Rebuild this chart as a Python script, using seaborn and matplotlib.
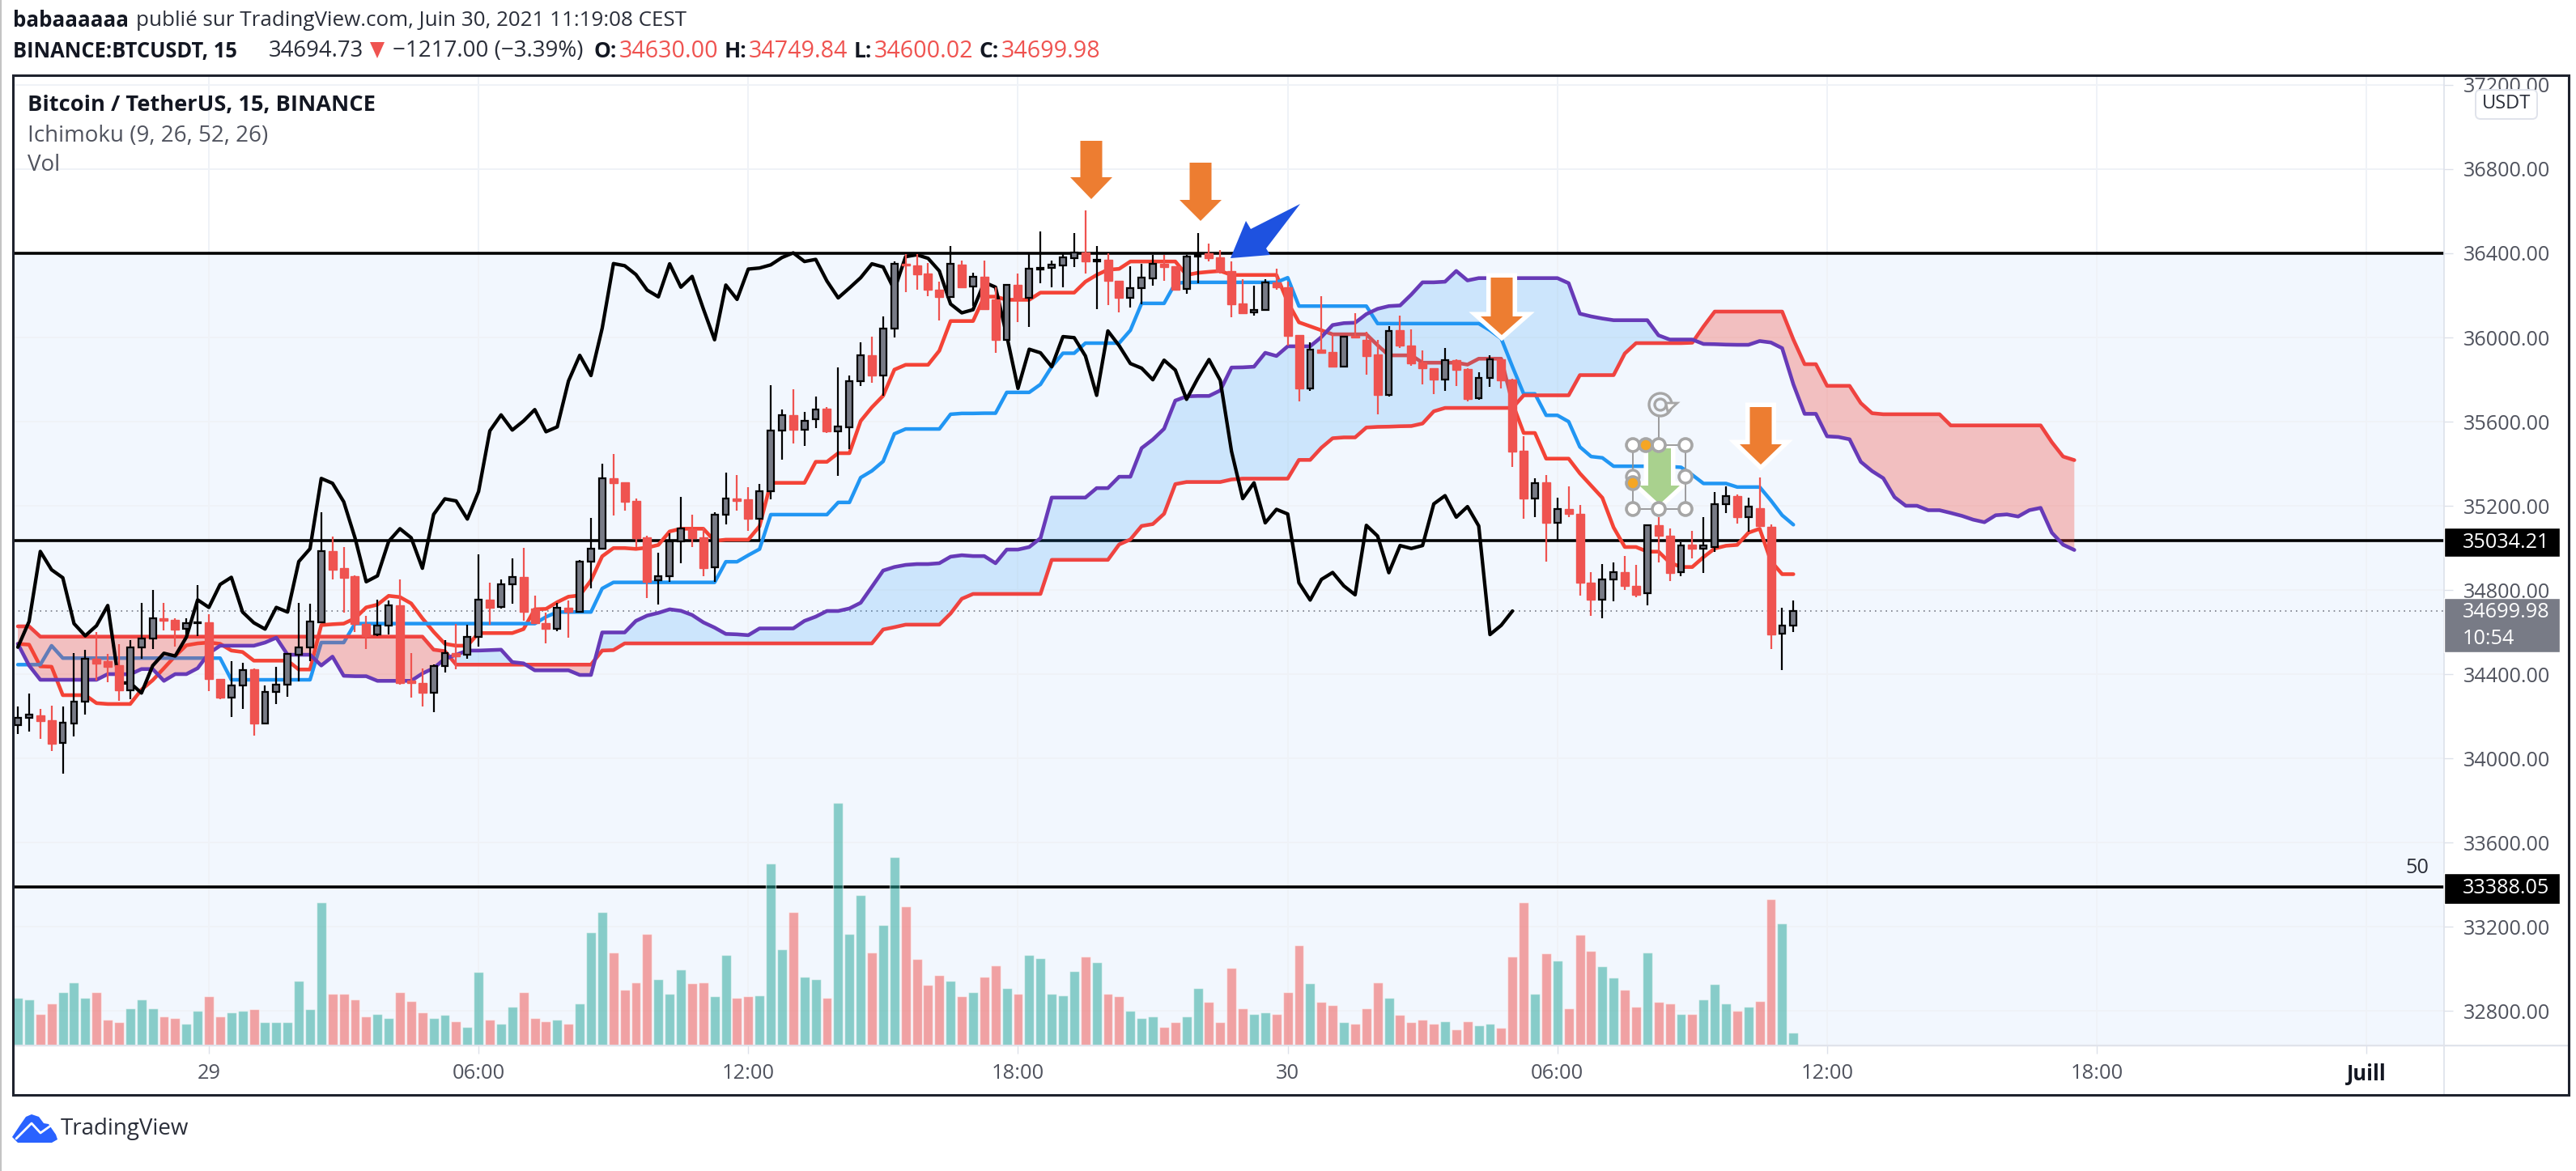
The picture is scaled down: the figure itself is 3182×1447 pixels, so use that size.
"""
BTCUSDT 15 min chart with Ichimoku cloud and volume, TradingView look.
"""

import matplotlib

matplotlib.use("Agg")
import matplotlib.pyplot as plt
import numpy as np
import pandas as pd
import seaborn as sns
from matplotlib.lines import Line2D
from matplotlib.patches import Circle, FancyBboxPatch, Polygon, Rectangle
from matplotlib.transforms import IdentityTransform

WIDTH, HEIGHT = 3182, 1447

opens = [
    34159, 34194, 34204, 34182, 34072, 34166, 34268, 34473, 34463, 34441,
    34322, 34527, 34568, 34664, 34659, 34614, 34642, 34646, 34377, 34287,
    34345, 34422, 34166, 34317, 34351, 34492, 34527, 34646, 34983, 34903,
    34864, 34640, 34589, 34630, 34726, 34371, 34358, 34310, 34440, 34499,
    34492, 34576, 34753, 34721, 34826, 34860, 34710, 34644, 34614, 34717,
    34695, 34935, 34996, 35330, 35310, 35223, 35050, 34845, 34864, 35031,
    35089, 35050, 34907, 35159, 35233, 35230, 35137, 35270, 35556, 35632,
    35562, 35610, 35661, 35555, 35574, 35793, 35915, 35819, 36044, 36351,
    36344, 36302, 36228, 36194, 36345, 36241, 36290, 36181, 35989, 36249,
    36188, 36322, 36329, 36344, 36377, 36402, 36363, 36371, 36268, 36188,
    36235, 36281, 36350, 36338, 36229, 36384, 36399, 36380, 36316, 36162,
    36120, 36130, 36262, 36239, 36012, 35758, 35944, 35931, 35861, 36008,
    35989, 35918, 35725, 36034, 35963, 35880, 35854, 35800, 35892, 35850,
    35710, 35806, 35895, 35800, 35463, 35234, 35311, 35120, 35183, 35161,
    34834, 34754, 34850, 34883, 34821, 34783, 35106, 35059, 34883, 35014,
    34998, 35005, 35209, 35248, 35148, 35189, 35101, 34591, 34630.00,
]
highs = [
    34245, 34307, 34236, 34249, 34245, 34501, 34516, 34599, 34496, 34544,
    34563, 34740, 34800, 34740, 34665, 34665, 34822, 34685, 34377, 34460,
    34454, 34428, 34345, 34435, 34499, 34740, 34733, 35168, 35053, 35005,
    34871, 34678, 34753, 34749, 34849, 34499, 34428, 34448, 34563, 34640,
    34633, 34971, 34836, 34849, 34950, 34999, 34774, 34691, 34739, 34749,
    34941, 35142, 35399, 35448, 35310, 35236, 35057, 34977, 35069, 35242,
    35159, 35095, 35168, 35358, 35345, 35287, 35304, 35774, 35659, 35755,
    35646, 35719, 35668, 35856, 35821, 35978, 36003, 36100, 36360, 36398,
    36398, 36353, 36267, 36435, 36367, 36307, 36367, 36239, 36252, 36303,
    36397, 36504, 36367, 36399, 36495, 36604, 36435, 36399, 36268, 36338,
    36350, 36393, 36393, 36338, 36393, 36495, 36448, 36415, 36361, 36275,
    36245, 36275, 36326, 36264, 36012, 35976, 36198, 36015, 36008, 36117,
    36027, 35989, 36053, 36102, 36040, 35938, 35854, 35950, 35898, 35854,
    35834, 35914, 35898, 35802, 35529, 35332, 35347, 35238, 35293, 35204,
    34883, 34924, 34931, 34960, 34918, 35110, 35148, 35093, 35027, 35080,
    35148, 35264, 35293, 35254, 35238, 35334, 35110, 34716, 34749.84,
]
lows = [
    34117, 34125, 34091, 34035, 33928, 34104, 34207, 34371, 34360, 34274,
    34281, 34473, 34518, 34608, 34531, 34589, 34582, 34319, 34281, 34198,
    34236, 34108, 34166, 34258, 34291, 34364, 34460, 34646, 34851, 34691,
    34601, 34518, 34582, 34589, 34351, 34287, 34245, 34219, 34409, 34422,
    34473, 34531, 34633, 34713, 34736, 34653, 34640, 34546, 34604, 34573,
    34695, 34809, 34992, 35155, 35178, 35005, 34762, 34730, 34839, 34928,
    35005, 34864, 34839, 35110, 35178, 35082, 35037, 35232, 35418, 35498,
    35484, 35571, 35546, 35343, 35469, 35770, 35783, 35723, 36001, 36216,
    36225, 36196, 36082, 36188, 36239, 36149, 36136, 35925, 35989, 36072,
    36050, 36258, 36239, 36239, 36335, 36303, 36136, 36152, 36120, 36143,
    36156, 36245, 36271, 36226, 36207, 36258, 36361, 36303, 36098, 36111,
    36104, 36127, 36226, 35963, 35697, 35748, 35925, 35858, 35858, 35995,
    35822, 35636, 35720, 35950, 35867, 35777, 35730, 35745, 35768, 35696,
    35704, 35764, 35757, 35383, 35139, 35145, 34934, 35037, 35145, 34773,
    34678, 34665, 34745, 34800, 34764, 34725, 34931, 34841, 34866, 34950,
    34879, 34982, 35165, 35116, 35075, 35101, 34520, 34418, 34600.02,
]
closes = [
    34194, 34208, 34178, 34069, 34168, 34271, 34473, 34450, 34435, 34322,
    34528, 34568, 34665, 34653, 34612, 34642, 34646, 34377, 34287, 34345,
    34419, 34166, 34317, 34351, 34496, 34528, 34650, 34983, 34896, 34858,
    34640, 34582, 34630, 34726, 34358, 34358, 34310, 34440, 34499, 34486,
    34576, 34753, 34717, 34826, 34860, 34695, 34644, 34614, 34717, 34695,
    34935, 34996, 35330, 35307, 35219, 35048, 34839, 34867, 35031, 35091,
    35048, 34903, 35159, 35233, 35223, 35137, 35268, 35556, 35632, 35560,
    35603, 35657, 35552, 35575, 35793, 35915, 35819, 36044, 36351, 36341,
    36299, 36225, 36193, 36350, 36239, 36290, 36136, 35989, 36249, 36181,
    36325, 36330, 36345, 36380, 36402, 36361, 36371, 36268, 36188, 36235,
    36284, 36350, 36335, 36226, 36384, 36393, 36376, 36316, 36159, 36117,
    36132, 36262, 36239, 36008, 35758, 35944, 35927, 35861, 36004, 35999,
    35912, 35725, 36031, 35961, 35876, 35854, 35799, 35892, 35845, 35706,
    35806, 35895, 35796, 35459, 35234, 35309, 35119, 35183, 35161, 34834,
    34752, 34850, 34883, 34819, 34777, 35107, 35056, 34882, 35011, 34997,
    35011, 35209, 35248, 35146, 35196, 35104, 34588, 34632, 34699.98,
]
volumes = [
    177, 171, 118, 155, 197, 235, 177, 198, 97, 86,
    139, 171, 139, 107, 103, 81, 129, 182, 107, 123,
    129, 134, 86, 86, 86, 240, 134, 532, 192, 192,
    171, 107, 118, 102, 198, 166, 123, 102, 113, 91,
    70, 272, 97, 81, 145, 198, 102, 91, 97, 81,
    155, 420, 495, 346, 208, 235, 415, 245, 192, 283,
    230, 235, 182, 335, 177, 182, 187, 675, 357, 495,
    256, 245, 177, 899, 415, 557, 346, 447, 700, 515,
    320, 224, 261, 240, 182, 198, 256, 298, 214, 192,
    335, 325, 192, 187, 277, 330, 309, 192, 182, 129,
    102, 107, 70, 86, 107, 214, 161, 86, 288, 139,
    118, 123, 118, 198, 372, 230, 161, 150, 86, 81,
    139, 235, 177, 113, 86, 97, 81, 91, 60, 91,
    75, 81, 65, 330, 532, 192, 341, 314, 139, 410,
    352, 293, 251, 208, 145, 346, 161, 155, 118, 118,
    171, 229, 155, 129, 145, 166, 542, 452, 49,
]
tenkan = [
    34544, 34540, 34437, 34435, 34300, 34300, 34300, 34262, 34258, 34258,
    34258, 34326, 34371, 34428, 34486, 34537, 34546, 34550, 34544, 34512,
    34505, 34464, 34464, 34464, 34464, 34422, 34422, 34633, 34637, 34640,
    34665, 34717, 34730, 34772, 34766, 34736, 34665, 34601, 34544, 34535,
    34535, 34595, 34595, 34595, 34595, 34614, 34708, 34710, 34742, 34768,
    34774, 34845, 34960, 34999, 34999, 34995, 35001, 35014, 35078, 35091,
    35091, 35091, 35033, 35039, 35039, 35039, 35103, 35309, 35309, 35309,
    35309, 35409, 35409, 35450, 35450, 35603, 35668, 35723, 35847, 35870,
    35870, 35870, 35937, 36078, 36078, 36078, 36194, 36194, 36179, 36179,
    36179, 36213, 36213, 36213, 36213, 36265, 36297, 36322, 36326, 36361,
    36361, 36361, 36361, 36361, 36297, 36307, 36312, 36316, 36297, 36297,
    36297, 36297, 36297, 36168, 36072, 36053, 36034, 36015, 36015, 36015,
    36015, 35963, 35915, 35915, 35915, 35880, 35880, 35880, 35880, 35871,
    35899, 35899, 35899, 35688, 35546, 35546, 35424, 35424, 35424, 35354,
    35296, 35238, 35097, 35004, 35004, 34982, 34982, 34930, 34909, 34909,
    34956, 34997, 35010, 35014, 35072, 35091, 34937, 34875, 34875,
]
kijun = [
    34445, 34445, 34445, 34535, 34476, 34476, 34476, 34476, 34476, 34476,
    34476, 34476, 34476, 34476, 34476, 34476, 34476, 34476, 34476, 34373,
    34373, 34373, 34373, 34373, 34373, 34373, 34373, 34550, 34550, 34550,
    34640, 34640, 34640, 34640, 34640, 34640, 34640, 34640, 34640, 34640,
    34640, 34640, 34640, 34640, 34640, 34640, 34640, 34672, 34695, 34695,
    34695, 34695, 34807, 34836, 34836, 34836, 34836, 34836, 34836, 34836,
    34836, 34836, 34836, 34934, 34934, 34965, 34994, 35158, 35158, 35158,
    35158, 35158, 35158, 35216, 35216, 35334, 35366, 35411, 35542, 35565,
    35565, 35565, 35565, 35635, 35639, 35639, 35640, 35640, 35739, 35739,
    35739, 35777, 35861, 35925, 35925, 35973, 35973, 35973, 35973, 36034,
    36162, 36162, 36162, 36258, 36262, 36262, 36262, 36262, 36262, 36262,
    36262, 36262, 36262, 36284, 36149, 36149, 36149, 36149, 36149, 36149,
    36149, 36066, 36066, 36066, 36066, 36066, 36066, 36066, 36066, 36066,
    36066, 36034, 35995, 35861, 35732, 35732, 35630, 35630, 35600, 35480,
    35434, 35428, 35388, 35388, 35388, 35388, 35388, 35386, 35383, 35347,
    35306, 35306, 35306, 35289, 35289, 35289, 35225, 35155, 35110,
]
senkou_a = [
    34627, 34627, 34578, 34578, 34578, 34578, 34578, 34578, 34578, 34578,
    34578, 34578, 34578, 34578, 34578, 34578, 34578, 34578, 34578, 34578,
    34578, 34578, 34578, 34578, 34578, 34578, 34578, 34578, 34578, 34578,
    34578, 34578, 34578, 34578, 34578, 34578, 34578, 34516, 34509, 34445,
    34445, 34445, 34445, 34445, 34445, 34445, 34445, 34445, 34445, 34445,
    34445, 34445, 34512, 34514, 34546, 34546, 34546, 34546, 34546, 34546,
    34546, 34546, 34546, 34546, 34546, 34546, 34546, 34546, 34546, 34546,
    34546, 34546, 34546, 34546, 34546, 34546, 34546, 34612, 34623, 34635,
    34635, 34635, 34635, 34688, 34758, 34781, 34781, 34781, 34781, 34781,
    34781, 34781, 34943, 34943, 34943, 34943, 34943, 34943, 35016, 35040,
    35104, 35113, 35162, 35303, 35313, 35313, 35313, 35313, 35325, 35329,
    35329, 35329, 35329, 35329, 35418, 35418, 35476, 35521, 35525, 35525,
    35572, 35575, 35576, 35578, 35579, 35591, 35649, 35665, 35665, 35665,
    35665, 35665, 35665, 35665, 35725, 35725, 35725, 35725, 35725, 35821,
    35821, 35821, 35821, 35924, 35973, 35973, 35973, 35973, 35973, 35975,
    36052, 36123, 36123, 36123, 36123, 36123, 36123, 36123, 35990, 35873,
    35873, 35770, 35770, 35770, 35688, 35640, 35635, 35635, 35635, 35635,
    35635, 35635, 35582, 35582, 35582, 35582, 35582, 35582, 35582, 35582,
    35582, 35502, 35434, 35417,
]
senkou_b = [
    34544, 34441, 34373, 34373, 34373, 34373, 34373, 34373, 34400, 34400,
    34399, 34424, 34424, 34368, 34400, 34400, 34428, 34499, 34535, 34535,
    34535, 34535, 34550, 34573, 34492, 34492, 34492, 34441, 34483, 34392,
    34390, 34390, 34368, 34368, 34368, 34368, 34403, 34428, 34473, 34492,
    34512, 34512, 34514, 34516, 34457, 34451, 34418, 34418, 34418, 34418,
    34396, 34396, 34598, 34598, 34598, 34653, 34678, 34691, 34708, 34701,
    34681, 34646, 34621, 34591, 34589, 34585, 34617, 34617, 34617, 34617,
    34653, 34673, 34700, 34700, 34712, 34739, 34815, 34892, 34909, 34919,
    34923, 34923, 34927, 34958, 34965, 34961, 34961, 34927, 34992, 34992,
    35004, 35046, 35239, 35239, 35239, 35239, 35284, 35284, 35338, 35338,
    35474, 35515, 35566, 35700, 35720, 35722, 35722, 35748, 35857, 35858,
    35861, 35927, 35912, 35958, 35958, 35958, 36002, 36059, 36068, 36070,
    36111, 36136, 36149, 36152, 36204, 36262, 36262, 36265, 36316, 36271,
    36282, 36282, 36282, 36282, 36282, 36282, 36282, 36282, 36258, 36113,
    36100, 36090, 36082, 36082, 36082, 36082, 36010, 35990, 35990, 35990,
    35969, 35968, 35966, 35965, 35965, 35983, 35976, 35949, 35777, 35637,
    35637, 35530, 35527, 35516, 35409, 35365, 35331, 35241, 35200, 35200,
    35179, 35179, 35166, 35152, 35134, 35122, 35155, 35159, 35149, 35179,
    35190, 35072, 35015, 34990,
]

price_ticks = [37200, 36800, 36400, 36000, 35600, 35200, 34800, 34400, 34000, 33600, 33200, 32800]
time_ticks = [17, 41, 65, 89, 113, 137, 161, 185, 209]
time_labels = ["29", "06:00", "12:00", "18:00", "30", "06:00", "12:00", "18:00", "Juill"]
levels = [36400, 35034.21, 33388.05]
last_price = 34699.98

FONT = "Open Sans"
RED = "#EF5350"
TEAL = "#26A69A"
DARK = "#131722"
LABEL = "#50535E"
GRID = "#EFF2F7"
SHADE = "#F2F7FE"
ORANGE = "#ED7D31"
GREEN = "#A9D18E"


def px(x, y):
    """Pixel of the reference (origin top left) to figure pixels."""
    return (x, HEIGHT - y)


def add_text(fig, x, y, text, size=19, color=DARK, weight="normal", ha="left"):
    fig.text(x / WIDTH, 1 - y / HEIGHT, text, fontsize=size, color=color, fontweight=weight,
             ha=ha, va="center", family=FONT)


def add_shape(fig, points, **kwargs):
    fig.add_artist(Polygon([px(*p) for p in points], closed=True, transform=IdentityTransform(), **kwargs))


def add_block_arrow(fig, cx, top, neck, tip, shaft, head, color, outline=0):
    pts = [(cx - shaft, top), (cx + shaft, top), (cx + shaft, neck), (cx + head, neck),
           (cx, tip), (cx - head, neck), (cx - shaft, neck)]
    if outline:
        # white halo first, the arrow itself stays at full width on top
        add_shape(fig, pts, facecolor="white", edgecolor="white", linewidth=outline, joinstyle="miter", zorder=4)
    add_shape(fig, pts, facecolor=color, edgecolor="none", zorder=4)


def draw_handles(fig):
    """Selection frame around the green arrow."""
    left, mid, right = 2017, 2049, 2082
    top, center, bottom = 550, 589, 629
    for xs, ys in [((left, right, right, left, left), (top, top, bottom, bottom, top)),
                   ((mid, mid), (513, top))]:
        fig.add_artist(Line2D(xs, [HEIGHT - v for v in ys], color="#8C8C8C", linewidth=1.2,
                              transform=IdentityTransform(), zorder=5))
    for x, y in [(left, center)]:
        fig.add_artist(Circle(px(x, y), 8, facecolor="white", edgecolor="#A6A6A6", linewidth=2.4,
                              transform=IdentityTransform(), zorder=5))
    add_block_arrow(fig, 2050, 554, 600, 623, 14, 25, GREEN, outline=8)
    for x, y in [(left, top), (mid, top), (right, top), (right, center),
                 (left, bottom), (mid, bottom), (right, bottom)]:
        fig.add_artist(Circle(px(x, y), 8, facecolor="white", edgecolor="#A6A6A6", linewidth=2.6,
                              transform=IdentityTransform(), zorder=6))
    for x, y in [(2033, top), (2017, 597)]:
        fig.add_artist(Circle(px(x, y), 8, facecolor="#F5A623", edgecolor="#A6A6A6", linewidth=2.6,
                              transform=IdentityTransform(), zorder=6))
    # rotation handle
    for radius in (14, 7):
        fig.add_artist(Circle(px(2051, 500), radius, facecolor="none", edgecolor="#A6A6A6", linewidth=2.4,
                              transform=IdentityTransform(), zorder=6))
    add_shape(fig, [(2058, 498), (2072, 498), (2060, 509)], facecolor="white", edgecolor="#A6A6A6",
              linewidth=2, zorder=6)


def draw_overlays(fig):
    # header
    add_text(fig, 16, 25, "babaaaaaa", size=18.6, weight="bold")
    add_text(fig, 168, 25, "publié sur TradingView.com, Juin 30, 2021 11:19:08 CEST", size=18.7, color="#2A2E39")
    add_text(fig, 16, 63, "BINANCE:BTCUSDT, 15", size=18.4, weight="bold")
    add_text(fig, 332, 63, "34694.73", size=19.8, color="#2A2E39")
    add_shape(fig, [(457, 52), (475, 52), (466, 72)], facecolor=RED, edgecolor="none")
    add_text(fig, 485, 63, "−1217.00 (−3.39%)", size=20, color="#2A2E39")
    for x_key, x_val, key, value in [(733, 765, "O:", "34630.00"), (895, 925, "H:", "34749.84"),
                                     (1055, 1080, "L:", "34600.02"), (1209, 1237, "C:", "34699.98")]:
        add_text(fig, x_key, 63, key, size=19, weight="bold")
        add_text(fig, x_val, 63, value, size=20.6, color=RED)

    # pane legend
    add_text(fig, 34, 130, "Bitcoin / TetherUS, 15, BINANCE", size=19.6, weight="bold", color=DARK)
    add_text(fig, 34, 168, "Ichimoku (9, 26, 52, 26)", size=20, color=LABEL)
    add_text(fig, 34, 204, "Vol", size=20, color=LABEL)

    # frame and separators
    fig.add_artist(Rectangle(px(16, 1353), 3157, 1260, facecolor="none", edgecolor="#1E222D", linewidth=2.2,
                             transform=IdentityTransform(), zorder=3))
    fig.add_artist(Line2D([3019, 3019], [HEIGHT - 93, HEIGHT - 1353], color="#DDE1EA", linewidth=1.2,
                          transform=IdentityTransform(), zorder=2))
    fig.add_artist(Line2D([16, 3173], [HEIGHT - 1292, HEIGHT - 1292], color="#E0E3EB", linewidth=1.6,
                          transform=IdentityTransform(), zorder=2))
    fig.add_artist(Line2D([1, 1], [0, HEIGHT], color="#C4C4C4", linewidth=1.6,
                          transform=IdentityTransform(), zorder=2))

    # price labels on the scale
    fig.add_artist(FancyBboxPatch(px(3058, 147), 76, 36, boxstyle="round,pad=0,rounding_size=6", facecolor="white",
                                  edgecolor="#E0E3EB", linewidth=1.4, transform=IdentityTransform(), zorder=3))
    add_text(fig, 3096, 128, "USDT", size=17, color="#2A2E39", ha="center")
    fig.add_artist(Rectangle(px(3019, 688), 143, 36, facecolor="black", transform=IdentityTransform(), zorder=3))
    add_text(fig, 3042, 670, "35034.21", size=18.2, color="white")
    fig.add_artist(Rectangle(px(3019, 806), 143, 67, facecolor="#787B86", transform=IdentityTransform(), zorder=3))
    add_text(fig, 3042, 756, "34699.98", size=18.2, color="white")
    add_text(fig, 3042, 789, "10:54", size=18.2, color="white")
    fig.add_artist(Rectangle(px(3019, 1117), 143, 38, facecolor="black", transform=IdentityTransform(), zorder=3))
    add_text(fig, 3042, 1097, "33388.05", size=18.2, color="white")
    add_text(fig, 2986, 1072, "50", size=18.2, color="#2A2E39", ha="center")

    # hand drawn arrows
    add_block_arrow(fig, 1348, 174, 219, 246, 13.5, 26, ORANGE)
    add_block_arrow(fig, 1483, 201, 247, 273, 13.5, 26, ORANGE)
    add_block_arrow(fig, 1855, 343, 391, 414, 13.5, 26, ORANGE, outline=8)
    add_block_arrow(fig, 2175, 503, 549, 574, 13.5, 26, ORANGE, outline=8)
    add_shape(fig, [(1520, 319), (1539, 273), (1545, 283), (1606, 252), (1564, 307), (1569, 315)],
              facecolor="#1E52E0", edgecolor="none", zorder=4)
    draw_handles(fig)

    # footer logo
    add_shape(fig, [(15, 1405), (25, 1390), (32, 1380), (39, 1377), (48, 1380), (54, 1388), (60, 1389),
                    (69, 1402), (71, 1408), (64, 1412), (22, 1412)], facecolor="#2962FF", edgecolor="none")
    fig.add_artist(Line2D([20, 39, 50, 64], [HEIGHT - 1407, HEIGHT - 1388, HEIGHT - 1400, HEIGHT - 1390],
                          color="white", linewidth=2, transform=IdentityTransform(), zorder=4))
    add_text(fig, 75, 1395, "TradingView", size=20, color="#2A2E39")


def main():
    sns.set_theme(style="white")
    plt.rcParams["font.family"] = [FONT, "DejaVu Sans"]

    fig = plt.figure(figsize=(WIDTH / 100 + 1e-4, HEIGHT / 100 + 1e-4), dpi=100, facecolor="white")
    rect = [16 / WIDTH, (HEIGHT - 1292) / HEIGHT, 3003 / WIDTH, 1198 / HEIGHT]

    # three layers: background and drawn levels, volume, price
    ax_bg = fig.add_axes(rect)
    ax_vol = ax_bg.twinx()
    ax = ax_bg.twinx()

    bars = np.arange(len(closes))
    ylim = (32634.6, 37242.3)
    xlim = (-0.435, 215.9)

    ax_bg.set_axisbelow("line")
    ax_bg.axhspan(ylim[0], levels[0], facecolor=SHADE, edgecolor="none", zorder=1)
    ax_bg.grid(True, color=GRID, linewidth=1.4)
    for level in levels:
        ax_bg.axhline(level, color="black", linewidth=2.6, zorder=3)
    ax_bg.axhline(last_price, color="#787B86", linewidth=1.2, linestyle=(0, (1, 3)), zorder=3)

    # volume pane
    vol_df = pd.DataFrame({
        "bar": bars,
        "volume": volumes,
        "side": ["up" if c >= o else "down" for o, c in zip(opens, closes)],
    })
    sns.barplot(data=vol_df, x="bar", y="volume", hue="side", palette={"up": TEAL, "down": RED},
                native_scale=True, dodge=False, width=0.86, saturation=1, alpha=0.52,
                errorbar=None, legend=False, ax=ax_vol)
    ax_vol.set_ylim(0, 3594)
    ax_vol.set_yticks([])
    ax_vol.set_xlabel("")
    ax_vol.set_ylabel("")

    # Ichimoku
    cloud_x = np.arange(len(senkou_a))
    span_a = np.array(senkou_a)
    span_b = np.array(senkou_b)
    sns.lineplot(x=bars, y=tenkan, color="#F44336", linewidth=3.3, errorbar=None, ax=ax, zorder=2)
    sns.lineplot(x=bars, y=kijun, color="#2196F3", linewidth=3.2, errorbar=None, ax=ax, zorder=2)
    ax.fill_between(cloud_x, span_a, span_b, where=span_a >= span_b, interpolate=True,
                    color="#F44336", alpha=0.31, linewidth=0, zorder=3)
    ax.fill_between(cloud_x, span_a, span_b, where=span_b >= span_a, interpolate=True,
                    color="#2196F3", alpha=0.18, linewidth=0, zorder=3)
    sns.lineplot(x=cloud_x, y=senkou_a, color="#EF4340", linewidth=3.3, errorbar=None, ax=ax, zorder=4)
    sns.lineplot(x=cloud_x, y=senkou_b, color="#673AB7", linewidth=3.3, errorbar=None, ax=ax, zorder=4)

    # lagging span is the close moved back 25 bars
    chikou = closes[25:]
    sns.lineplot(x=np.arange(len(chikou)), y=chikou, color="black", linewidth=3.1, errorbar=None, ax=ax, zorder=5)

    # candles
    o, h, l, c = map(np.array, (opens, highs, lows, closes))
    up = c >= o
    ax.vlines(bars[up], l[up], h[up], color="black", linewidth=1.6, zorder=6)
    ax.vlines(bars[~up], l[~up], h[~up], color=RED, linewidth=1.6, zorder=6)
    ax.bar(bars[up], (c - o)[up], bottom=o[up], width=0.56, color="#787B86", edgecolor="black", linewidth=1.6, zorder=7)
    ax.bar(bars[~up], (o - c)[~up], bottom=c[~up], width=0.72, color=RED, edgecolor=RED, linewidth=1, zorder=7)

    for axis in (ax_bg, ax_vol, ax):
        axis.set_xlim(*xlim)
        for spine in axis.spines.values():
            spine.set_visible(False)
    ax_bg.set_ylim(*ylim)
    ax.set_ylim(*ylim)
    ax.set_yticks([])
    ax.set_xlabel("")
    ax.set_ylabel("")

    ax_bg.yaxis.tick_right()
    ax_bg.set_yticks(price_ticks)
    ax_bg.set_yticklabels([f"{t:.2f}" for t in price_ticks])
    ax_bg.tick_params(axis="y", which="major", right=True, length=8, width=1, color="#DDE1EA",
                      pad=9, labelsize=18.2, labelcolor=LABEL)
    ax_bg.set_xticks(time_ticks)
    ax_bg.set_xticklabels(time_labels)
    ax_bg.tick_params(axis="x", which="major", bottom=True, length=7, width=1, color="#DDE1EA",
                      pad=9, labelsize=18.4, labelcolor=LABEL)
    ax_vol.tick_params(axis="both", length=0, labelbottom=False)
    ax.tick_params(axis="both", length=0, labelbottom=False)
    juill = ax_bg.get_xticklabels()[-1]
    juill.set_fontweight("bold")
    juill.set_color(DARK)

    draw_overlays(fig)

    fig.savefig("out.png", dpi=100, facecolor="white")
    plt.close(fig)


if __name__ == "__main__":
    main()
